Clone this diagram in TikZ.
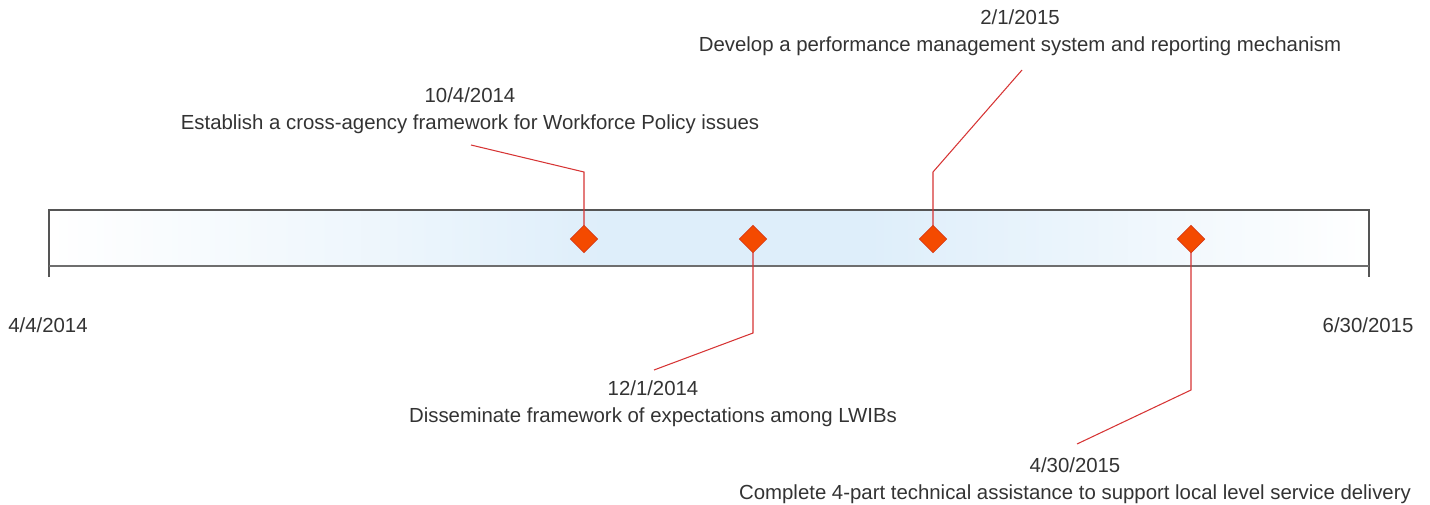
\documentclass[tikz,border=0pt]{standalone}
\usepackage{fontspec}
\setmainfont{Liberation Sans}
\usetikzlibrary{shapes.geometric}
\definecolor{barblue}{RGB}{222,238,250}
\definecolor{barline}{RGB}{85,85,85}
\definecolor{msfill}{RGB}{244,74,0}
\definecolor{msline}{RGB}{214,58,24}
\definecolor{leader}{RGB}{214,52,52}
\definecolor{txt}{RGB}{51,51,51}
\pgfdeclarehorizontalshading{barshade}{100bp}{color(0bp)=(white); color(25bp)=(white);
  color(38bp)=(barblue!55); color(46bp)=(barblue); color(56bp)=(barblue);
  color(64bp)=(barblue!60); color(75bp)=(white); color(100bp)=(white)}

\begin{document}
\begin{tikzpicture}[x=0.02cm, y=-0.02cm,
  every node/.style={font=\fontsize{11.6}{15.3}\selectfont, text=txt},
  ms/.style={diamond, draw=msline, fill=msfill, inner sep=0pt, minimum size=15.8pt},
  lead/.style={draw=leader, line width=0.6pt},
  lbl/.style={align=center, inner sep=0pt}]
\useasboundingbox (0,0) rectangle (1430,504);
% timeline bar
\shade[shading=barshade] (49,210) rectangle (1369,266);
\draw[barline, line width=0.8pt] (49,277) -- (49,210) -- (1369,210) -- (1369,277);
\draw[barline!85, line width=1.3pt] (49,266) -- (1369,266);
\node[anchor=center] (start) at (48,325) {4/4/2014};
\node[anchor=center] (end) at (1368,325) {6/30/2015};

% milestone labels
\node[lbl] (l1) at (470,111) {10/4/2014\\Establish a cross-agency framework for Workforce Policy issues};
\node[lbl] (l2) at (653,404) {12/1/2014\\Disseminate framework of expectations among LWIBs};
\node[lbl] (l3) at (1020,33) {2/1/2015\\Develop a performance management system and reporting mechanism};
\node[lbl] (l4) at (1075,481) {4/30/2015\\Complete 4-part technical assistance to support local level service delivery};

% leader lines
\coordinate (b1) at (584,172); \coordinate (e1) at (471,145);
\coordinate (b2) at (753,333); \coordinate (e2) at (654,370);
\coordinate (b3) at (933,172); \coordinate (e3) at (1022,70);
\coordinate (b4) at (1191,390); \coordinate (e4) at (1077,444);
\draw[lead] (584,239) -- (b1) -- (e1);
\draw[lead] (753,239) -- (b2) -- (e2);
\draw[lead] (933,239) -- (b3) -- (e3);
\draw[lead] (1191,239) -- (b4) -- (e4);

% milestones
\node[ms] (m1) at (584,239) {};
\node[ms] (m2) at (753,239) {};
\node[ms] (m3) at (933,239) {};
\node[ms] (m4) at (1191,239) {};
\end{tikzpicture}
\end{document}
